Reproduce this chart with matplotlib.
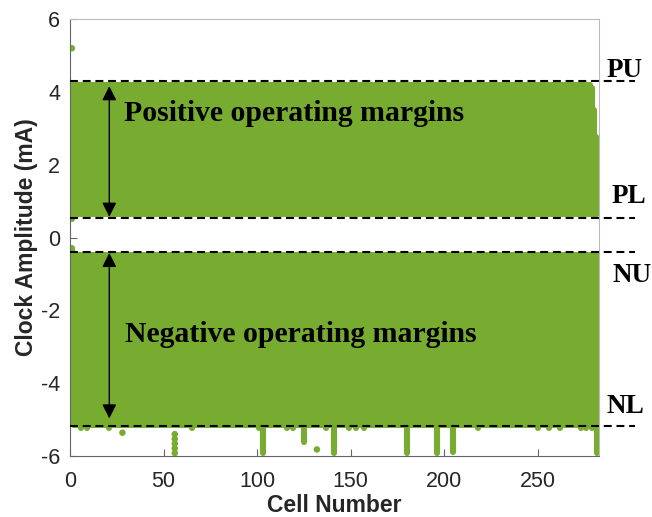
import matplotlib
matplotlib.use("Agg")
import matplotlib.pyplot as plt
import numpy as np

plt.rcParams["axes.unicode_minus"] = False

# --- data: operating range of each cell (centres of the measured points) ---
n_cells = 282
cells = np.arange(1, n_cells + 1)

pos_top = np.full(n_cells, 4.20)
pos_bot = np.full(n_cells, 0.64)
neg_top = np.full(n_cells, -0.47)
neg_bot = np.full(n_cells, -5.15)

# cells that differ from the usual range
pos_bot[0] = 0.50
neg_top[0] = -0.28
neg_bot[0] = -3.12
pos_top[278:] = [4.10, 3.50, 2.75, 2.50]

# cells whose negative margin reaches further down
tail_cells = [103, 125, 141, 180, 196, 205, 282]
tail_bottom = [-5.92, -5.62, -5.92, -5.92, -5.92, -5.88, -5.93]

short_tail_cells = [6, 9, 21, 65, 101, 116, 119, 137, 149, 153, 157, 218,
                    250, 256, 262, 273, 276, 279]
short_tail_bottom = -5.22

# isolated points
dot_cells = [1, 28, 132, 56, 56, 56, 56, 56]
dot_amps = [5.20, -5.36, -5.82, -5.40, -5.53, -5.66, -5.79, -5.92]

# margin limits
limit_names = ["PU", "PL", "NU", "NL"]
limit_values = [4.30, 0.55, -0.40, -5.18]

green = "#77AC30"

fig = plt.figure(figsize=(6.52, 5.17), dpi=100)
ax = fig.add_axes([0.1074, 0.118, 0.8118, 0.845])

lw_pts = 4.4
for lo, hi in [(pos_bot, pos_top), (neg_bot, neg_top)]:
    lc = ax.vlines(cells, lo, hi, color=green, linewidth=lw_pts, zorder=2)
    lc.set_capstyle("round")

lc = ax.vlines(tail_cells, neg_bot[np.array(tail_cells) - 1], tail_bottom,
               color=green, linewidth=lw_pts, zorder=2)
lc.set_capstyle("round")
lc = ax.vlines(short_tail_cells, neg_bot[np.array(short_tail_cells) - 1],
               short_tail_bottom, color=green, linewidth=lw_pts, zorder=2)
lc.set_capstyle("round")
ax.scatter(dot_cells, dot_amps, s=22, color=green, edgecolors="none", zorder=2)

# dashed margin lines, running a little past the right edge
for v in limit_values:
    ax.plot([0, 302], [v, v], color="black", linewidth=1.5,
            linestyle=(0, (3.8, 2.3)), clip_on=False, zorder=4)

label_pos = [(287.0, 4.42), (289.5, 0.95), (290.0, -1.22), (287.0, -4.83)]
for name, (lx, ly) in zip(limit_names, label_pos):
    ax.text(lx, ly, name, fontsize=19.5, fontweight="bold",
            family="Liberation Serif", va="baseline", ha="left", clip_on=False)

# arrows marking the margins
arrow_style = "<|-|>,head_length=0.86,head_width=0.43"
ax.annotate("", xy=(21, 0.57), xytext=(21, 4.16),
            arrowprops=dict(arrowstyle=arrow_style, color="black", lw=1.0,
                            mutation_scale=10, shrinkA=0, shrinkB=0), zorder=5)
ax.annotate("", xy=(21, -4.97), xytext=(21, -0.42),
            arrowprops=dict(arrowstyle=arrow_style, color="black", lw=1.0,
                            mutation_scale=10, shrinkA=0, shrinkB=0), zorder=5)

ax.text(29, 3.21, "Positive operating margins", fontsize=21.4, fontweight="bold",
        family="Liberation Serif", va="baseline", zorder=5)
ax.text(29.5, -2.86, "Negative operating margins", fontsize=21.4, fontweight="bold",
        family="Liberation Serif", va="baseline", zorder=5)

ax.set_xlim(0, 283)
ax.set_ylim(-6, 6)
ax.set_xticks([0, 50, 100, 150, 200, 250])
ax.set_yticks([-6, -4, -2, 0, 2, 4, 6])

ax.tick_params(direction="in", length=5, width=0.8, colors="#666666",
               labelcolor="#262626", labelsize=15.5)
ax.tick_params(axis="x", pad=11)
ax.tick_params(axis="y", pad=7)
for side in ["left", "bottom"]:
    ax.spines[side].set_color("#666666")
for side in ["top", "right"]:
    ax.spines[side].set_color("#bbbbbb")
for sp in ax.spines.values():
    sp.set_linewidth(0.8)

ax.set_xlabel("Cell Number", fontsize=16.5, fontweight="bold",
              family="Liberation Sans", color="#262626", labelpad=1.5)
ax.set_ylabel("Clock Amplitude (mA)", fontsize=16.5, fontweight="bold",
              family="Liberation Sans", color="#262626", labelpad=2)
for lab in ax.get_xticklabels() + ax.get_yticklabels():
    lab.set_family("Liberation Sans")

fig.savefig("out.png", dpi=100)
